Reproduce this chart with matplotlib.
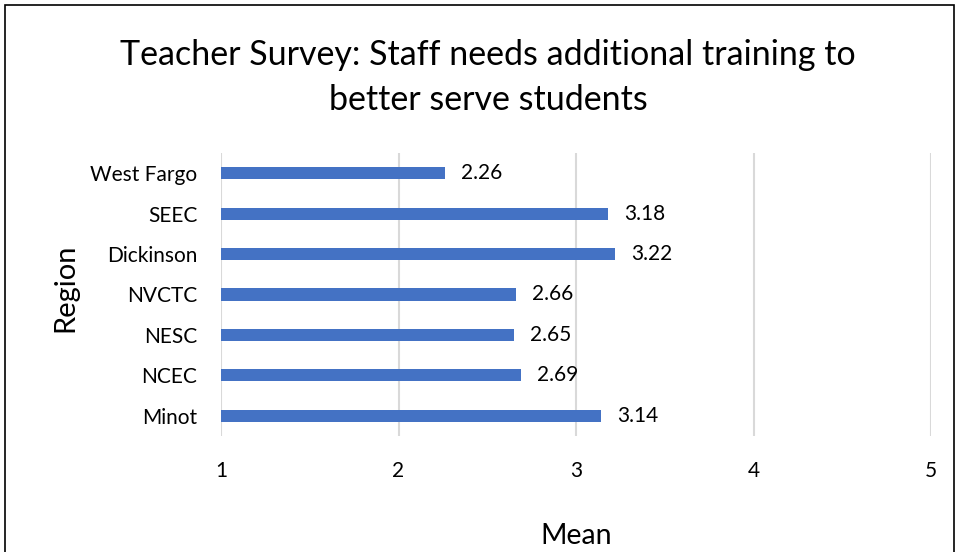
import matplotlib
matplotlib.use("Agg")
import matplotlib.pyplot as plt
from matplotlib.patches import Rectangle

categories = ["Minot", "NCEC", "NESC", "NVCTC", "Dickinson", "SEEC", "West Fargo"]
values = [3.14, 2.69, 2.65, 2.66, 3.22, 3.18, 2.26]
xticks = [1, 2, 3, 4, 5]

plt.rcParams['font.family'] = ['Lato', 'DejaVu Sans']

W, H = 956, 552
fig = plt.figure(figsize=(W/100, H/100), dpi=100)
ax = fig.add_axes([221/W, 1-436/H, (931-221)/W, (436-153)/H])

ypos = list(range(len(categories)))
ax.barh(ypos, [v - 1 for v in values], left=1, height=0.30, color="#4472C4", zorder=3)
for y, v in zip(ypos, values):
    ax.annotate(f"{v:.2f}", xy=(v, y), xytext=(11.5, 0), textcoords="offset points",
                ha="left", va="center", fontsize=15, color="#000000")

ax.set_xlim(1, 5)
ax.set_ylim(-0.5, len(categories) - 0.5)
ax.set_xticks(xticks)
ax.set_xticklabels([str(t) for t in xticks])
ax.set_yticks(ypos)
ax.set_yticklabels(categories)
ax.grid(axis="x", color="#D9D9D9", linewidth=1.5, zorder=0)
for s in ax.spines.values():
    s.set_visible(False)
ax.tick_params(axis="both", length=0, labelsize=15, colors="#000000")
ax.tick_params(axis="x", pad=18)
ax.tick_params(axis="y", pad=17)

fig.text(576/W, 1-536/H, "Mean", ha="center", va="center", fontsize=20.5)
fig.text(65/W, 1-288/H, "Region", ha="center", va="center", rotation=90, fontsize=21)
fig.text(488/W, 1-55/H, "Teacher Survey: Staff needs additional training to",
         ha="center", va="center", fontsize=24.5)
fig.text(488/W, 1-100/H, "better serve students", ha="center", va="center", fontsize=24.5)

fig.patches.append(Rectangle((4.5/W, -0.05), (953.5-4.5)/W, 1.05 - 4.5/H,
                             transform=fig.transFigure, fill=False,
                             edgecolor="black", linewidth=1.2))

fig.savefig("out.png", dpi=100)
